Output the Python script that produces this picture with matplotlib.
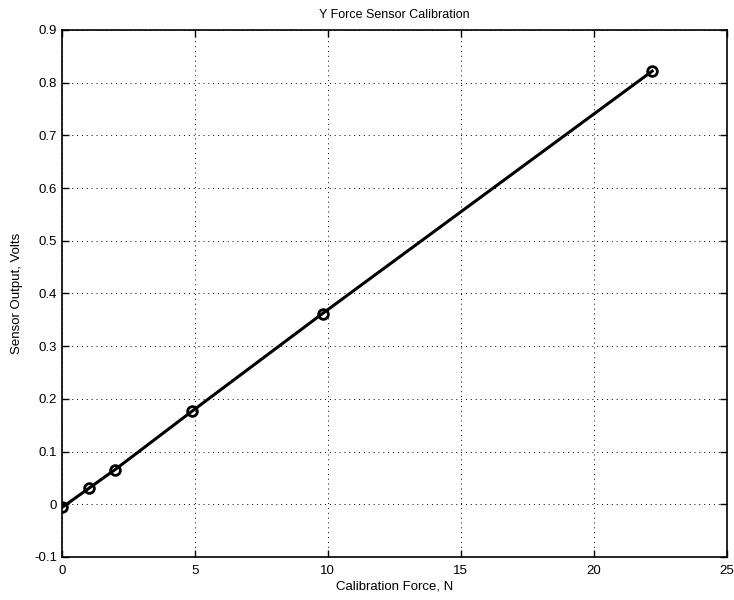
import matplotlib
matplotlib.use('Agg')
import matplotlib.pyplot as plt

# Calibration data
force = [0.0, 1.0, 2.0, 4.9, 9.8, 22.2]           # N
volts = [-0.006, 0.030, 0.066, 0.177, 0.362, 0.822]  # V

plt.rcParams['font.family'] = ['Liberation Sans', 'DejaVu Sans']
plt.rcParams['font.size'] = 9

fig = plt.figure(figsize=(7.34, 6.0), dpi=100)
ax = fig.add_axes([0.0845, 0.0717, 0.9055, 0.8783])

ax.plot(force, volts, 'k-', lw=2.2, marker='o', ms=7, mfc='none', mec='k', mew=2)

ax.set_xlim(0, 25)
ax.set_ylim(-0.1, 0.9)
ax.set_xticks(range(0, 26, 5))
ax.set_yticks([-0.1, 0, 0.1, 0.2, 0.3, 0.4, 0.5, 0.6, 0.7, 0.8, 0.9])
ax.set_yticklabels(['-0.1', '0', '0.1', '0.2', '0.3', '0.4', '0.5', '0.6', '0.7', '0.8', '0.9'])
ax.grid(True, color='k', linestyle=(0, (1, 4)), linewidth=0.7)
ax.tick_params(direction='in', length=5, width=1, top=True, right=True, labelsize=9.5)
ax.tick_params(axis='x', pad=6)
for s in ax.spines.values():
    s.set_linewidth(1.2)

ax.set_title('Y Force Sensor Calibration', fontsize=9, pad=9)
ax.set_xlabel('Calibration Force, N', fontsize=9.5, labelpad=2)
ax.set_ylabel('Sensor Output, Volts', fontsize=9.5, labelpad=8)

fig.savefig('out.png', dpi=100)
